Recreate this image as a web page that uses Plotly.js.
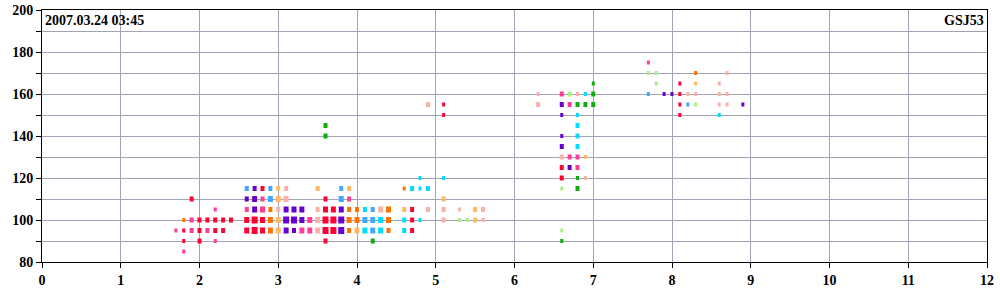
<!DOCTYPE html>
<html>
<head>
<meta charset="utf-8">
<script src="https://cdn.plot.ly/plotly-3.0.1.min.js"></script>
<style>html,body{margin:0;padding:0;background:#fff;}#chart{width:1000px;height:300px;}</style>
</head>
<body>
<div id="chart"></div>
<script>
// ---- data (x, value, level) per colour class ----
const redX = [1.8,1.8,1.9,2.0,2.0,2.0,2.1,2.2,2.2,2.3,2.3,2.4, 2.6,2.6,2.7,2.7,2.8,2.8,2.8, 3.6,3.6,3.6,3.6,3.6,3.7,3.7,3.7, 4.7,4.7,4.7, 5.1,5.1, 6.6,6.6, 8.1,8.1,8.1,8.1];
const redY = [95,90,110,100,95,90,100,100,95,100,95,100, 100,95,100,95,115,100,95, 110,105,100,95,90,105,100,95, 105,100,95, 155,150, 125,120, 165,160,155,150];
const redL = [1,1,2,2,2,2,2,2,2,2,2,2, 3,3,4,4,2,3,3, 2,3,4,4,2,3,4,4, 2,2,2, 1,1, 2,2, 1,1,1,1];

const pinkX = [1.7,1.8,1.9,1.9,2.1,2.2,2.2, 2.6,2.8,2.8,3.3,3.4,3.4, 3.9, 6.6,6.7,6.7,6.8,6.8, 7.7];
const pinkY = [95,85,100,95,95,105,90, 105,110,105,95,100,95, 110, 160,155,130,130,125, 175];
const pinkL = [1,1,2,2,2,1,1, 2,2,3,3,3,3, 2, 2,2,2,2,2, 1];

const lightPinkX = [3.0,3.1,3.1,3.5,3.5,3.5, 4.3, 4.9,4.9,5.1,5.1,5.3,5.6,5.6, 6.3,6.3,6.6,6.8,6.9, 8.2,8.3,8.6,8.6,8.6,8.7,8.7,8.7];
const lightPinkY = [105,115,110,105,100,95, 105, 155,105,105,100,105,105,100, 160,155,130,160,120, 160,160,165,160,155,170,160,155];
const lightPinkL = [2,2,3,2,3,3, 3, 2,2,2,2,1,2,1, 1,2,2,1,1, 1,1,1,1,1,1,1,1];

const orangeX = [1.8,2.9,2.9,2.9, 3.9,3.9,3.9,4.0,4.0,4.4,4.4,4.4, 4.6, 8.3];
const orangeY = [100,105,100,95, 105,100,95,105,100,105,100,95, 115, 170];
const orangeL = [1,2,3,3, 2,3,2,2,3,3,3,2, 1, 1];

const lightOrangeX = [3.0,3.0,3.0,3.0,3.5,3.9,4.0,4.6,5.1,5.5,5.5,6.9,8.3];
const lightOrangeY = [115,110,100,95,115,115,95,105,110,105,100,130,165];
const lightOrangeL = [2,3,3,3,2,2,3,2,2,2,2,1,1];

const purpleX = [2.6,2.7,2.7,2.7,3.1,3.1,3.1,3.2,3.2,3.2,3.3,3.3, 3.8,3.8,3.8, 6.6,6.6,6.6,6.6,6.7, 7.9,8.0,8.9];
const purpleY = [110,115,110,105,105,100,95,105,100,95,105,100, 105,100,95, 155,150,140,135,125, 160,160,155];
const purpleL = [2,2,3,3,3,4,3,3,4,2,3,3, 3,4,4, 2,1,1,2,2, 1,1,1];

const blueX = [2.6,2.9,2.9,3.8,3.8,4.1,4.2,4.2,4.2,7.7,8.2];
const blueY = [115,115,110,115,110,100,105,100,95,160,155];
const blueL = [2,2,3,2,3,3,2,3,3,1,1];

const cyanX = [4.1,4.1,4.3,4.3,4.6,4.6,4.7,4.8,4.8,4.8,4.9,5.1, 6.8,6.8,6.8,6.8,6.9,8.6];
const cyanY = [105,95,100,95,100,95,115,120,115,100,115,120, 150,145,140,135,160,150];
const cyanL = [2,3,3,3,2,2,2,1,1,1,2,1, 1,2,2,2,1,1];

const greenX = [3.6,3.6,4.2,6.6,6.8,6.8,6.8,6.9,7.0,7.0,7.0];
const greenY = [145,140,90,90,155,120,115,155,165,160,155];
const greenL = [2,2,2,1,2,1,2,2,1,2,2];

const lightGreenX = [5.3,5.4,6.6,6.6,6.7,7.7,7.8,7.8,8.3];
const lightGreenY = [100,100,115,95,160,170,170,165,155];
const lightGreenL = [1,1,1,1,2,1,1,1,1];

// polarity marks under the axis
const negX = [2.5, 4.5, 6.5, 11.3];
const posX = [5, 9, 10];

const xTicks = [0,1,2,3,4,5,6,7,8,9,10,11,12];
const yTicks = [80,90,100,110,120,130,140,150,160,170,180,190,200];
const yTickText = ['80','','100','','120','','140','','160','','180','','200'];

const stamp = '2007.03.24 03:45';
const station = 'GSJ53';

// ---- styling ----
const groups = [
  {x: redX, y: redY, l: redL, c: '#ff0033'},
  {x: pinkX, y: pinkY, l: pinkL, c: '#ff3d99'},
  {x: lightPinkX, y: lightPinkY, l: lightPinkL, c: '#f8b2aa'},
  {x: orangeX, y: orangeY, l: orangeL, c: '#ff7300'},
  {x: lightOrangeX, y: lightOrangeY, l: lightOrangeL, c: '#ffb868'},
  {x: purpleX, y: purpleY, l: purpleL, c: '#6600cc'},
  {x: blueX, y: blueY, l: blueL, c: '#42a8ff'},
  {x: cyanX, y: cyanY, l: cyanL, c: '#00dcff'},
  {x: greenX, y: greenY, l: greenL, c: '#11aa11'},
  {x: lightGreenX, y: lightGreenY, l: lightGreenL, c: '#aaee88'}
];
const W = {1: 3, 2: 4, 3: 5, 4: 6};
const H = {1: 4, 2: 5, 3: 6, 4: 7};

const traces = groups.map(g => ({
  type: 'scatter', mode: 'markers', x: g.x, y: g.y, hoverinfo: 'skip',
  marker: {
    symbol: 'line-ns-open',
    opacity: 1,
    color: g.c,
    size: g.l.map(v => H[v] / 1.4),
    line: {color: g.c, width: g.l.map(v => W[v])}
  }
}));

traces.push({
  type: 'scatter', mode: 'markers', x: negX, y: negX.map(() => 78.6),
  cliponaxis: false, hoverinfo: 'skip',
  marker: {symbol: 'line-ew-open', size: 6.4, opacity: 1, color: '#000', line: {color: '#000', width: 1.2}}
});
traces.push({
  type: 'scatter', mode: 'markers', x: posX, y: posX.map(() => 78.6),
  cliponaxis: false, hoverinfo: 'skip',
  marker: {symbol: 'cross-thin-open', size: 5, opacity: 1, color: '#000', line: {color: '#000', width: 1.2}}
});

const FAM = '"Liberation Serif", "Times New Roman", serif';
function tf() {
  return {family: FAM, size: 14, color: '#000'};
}
const bold = s => s === '' ? '' : '<b>' + s + '</b>';
const gridC = '#a3a3b6';

const layout = {
  width: 1000, height: 300,
  margin: {l: 42, r: 13, t: 10, b: 38},
  paper_bgcolor: '#fff', plot_bgcolor: '#fff',
  showlegend: false,
  font: {family: FAM, size: 14, color: '#000'},
  xaxis: {
    range: [0, 12], tickvals: xTicks, ticktext: xTicks.map(v => bold(String(v))),
    showgrid: true, gridcolor: gridC, gridwidth: 1, zeroline: false,
    showline: true, linecolor: '#000', linewidth: 1, mirror: true,
    ticks: 'outside', ticklen: 5, tickcolor: '#000', tickwidth: 1,
    tickfont: tf(), fixedrange: true
  },
  yaxis: {
    range: [80, 200], tickvals: yTicks, ticktext: yTickText.map(bold),
    showgrid: true, gridcolor: gridC, gridwidth: 1, zeroline: false,
    showline: true, linecolor: '#000', linewidth: 1, mirror: true,
    ticks: 'outside', ticklen: 5, tickcolor: '#000', tickwidth: 1,
    tickfont: tf(), fixedrange: true
  },
  annotations: [
    {text: bold(stamp), xref: 'paper', yref: 'paper', x: 0, y: 1, xanchor: 'left', yanchor: 'top',
     showarrow: false, font: tf(), xshift: 1, yshift: -1},
    {text: bold(station), xref: 'paper', yref: 'paper', x: 1, y: 1, xanchor: 'right', yanchor: 'top',
     showarrow: false, font: tf(), xshift: -1, yshift: -1}
  ]
};

Plotly.newPlot('chart', traces, layout, {staticPlot: true, displayModeBar: false});
</script>
</body>
</html>
